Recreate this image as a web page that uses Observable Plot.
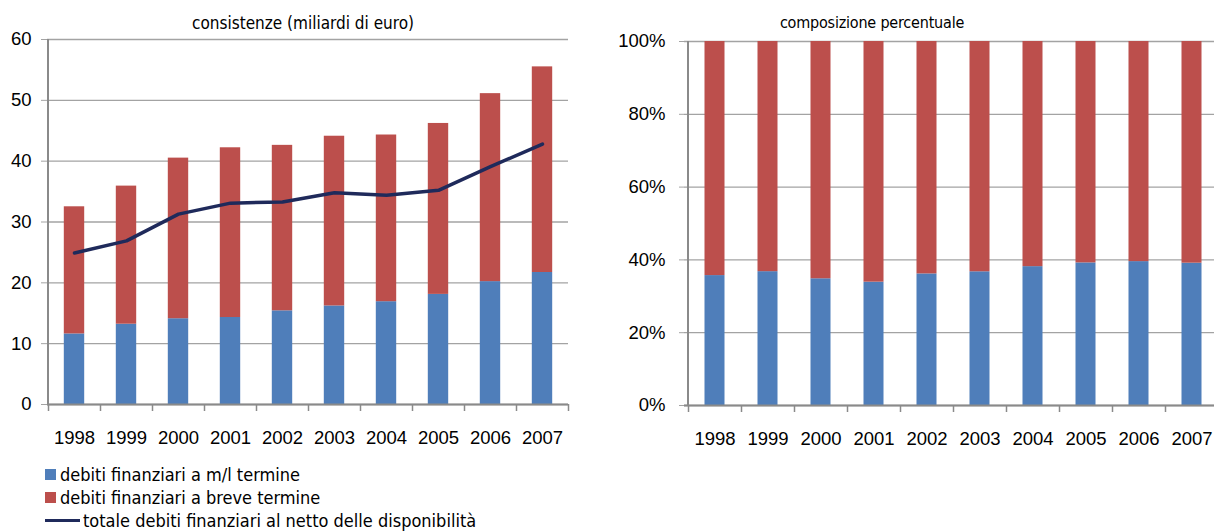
<!DOCTYPE html>
<html>
<head>
<meta charset="utf-8">
<script src="https://cdn.jsdelivr.net/npm/d3@7"></script>
<script src="https://cdn.jsdelivr.net/npm/@observablehq/plot@0.6"></script>
<style>
  html, body { margin: 0; padding: 0; background: #fff; overflow: hidden; width: 1214px; height: 532px; }
  #root { position: relative; width: 1214px; height: 532px; overflow: hidden; }
  .title { position: absolute; top: 13px; transform: translateX(-50%); white-space: nowrap;
           font-family: "Liberation Sans Narrow", "DejaVu Sans Condensed", "Noto Sans", sans-serif;
           font-stretch: condensed; font-size: 17px; color: #000; line-height: 20px; }
  .chart { position: absolute; top: 0; }
  .legend { position: absolute; left: 45px; top: 463px;
            font-family: "Liberation Sans Narrow", "DejaVu Sans Condensed", "Noto Sans", sans-serif;
            font-stretch: condensed; font-size: 18px; color: #000; }
  .legend .row { height: 23px; line-height: 23px; display: flex; align-items: center; white-space: nowrap; }
  .legend .sw { display: inline-block; width: 11px; height: 11px; margin-right: 4px; }
  .legend .ln { display: inline-block; width: 35px; height: 3px; margin-right: 3px; }
</style>
</head>
<body>
<div id="root">
  <div class="chart" id="left" style="left:0px"></div>
  <div class="chart" id="right" style="left:600px; width:621px"></div>
  <div class="title" id="t1" style="left:303px"></div>
  <div class="title" id="t2" style="left:872px; font-size:16px; letter-spacing:-0.2px"></div>
  <div class="legend" id="legend"></div>
</div>
<script>
// ---- data ----
const years = [1998, 1999, 2000, 2001, 2002, 2003, 2004, 2005, 2006, 2007];
const mlTermine    = [11.6, 13.2, 14.1, 14.3, 15.4, 16.2, 16.9, 18.1, 20.2, 21.7];
const breveTermine = [20.9, 22.7, 26.4, 27.9, 27.2, 27.9, 27.4, 28.1, 30.9, 33.8];
const totaleNetto  = [24.9, 26.9, 31.3, 33.1, 33.3, 34.8, 34.4, 35.2, 39.1, 42.8];
const seriesNames = ["debiti finanziari a m/l termine", "debiti finanziari a breve termine"];
const lineName = "totale debiti finanziari al netto delle disponibilità";
const titles = ["consistenze (miliardi di euro)", "composizione percentuale"];
const leftTicks = [0, 10, 20, 30, 40, 50, 60];
const rightTicks = [0, 0.2, 0.4, 0.6, 0.8, 1];

// ---- styles ----
const colors = ["#4F7EBA", "#BC4F4C"];
const lineColor = "#1F2A5B";
const gridColor = "#A3A3A3";
const axisColor = "#8A8A8A";
const tickFont = "'Liberation Sans', Arial, sans-serif";

const stacked = years.flatMap((y, i) => [
  {year: y, serie: seriesNames[0], value: mlTermine[i]},
  {year: y, serie: seriesNames[1], value: breveTermine[i]}
]);
const lineData = years.map((y, i) => ({year: y, value: totaleNetto[i]}));

// vertical axis line + category boundary ticks, from the x scale
function frameMark(tickLen) {
  return (index, scales, values, dimensions) => {
    const xs = years.map(y => scales.x(y));
    const step = xs[1] - xs[0];
    xs.push(xs[xs.length - 1] + step);
    const bottom = dimensions.height - dimensions.marginBottom;
    const g = d3.create("svg:g");
    g.selectAll("line.t").data(xs).join("line")
      .attr("x1", d => Math.round(d) + 0.5).attr("x2", d => Math.round(d) + 0.5)
      .attr("y1", bottom).attr("y2", bottom + tickLen)
      .attr("stroke", axisColor).attr("stroke-width", 1.5);
    g.append("line")
      .attr("x1", Math.round(xs[0])).attr("x2", Math.round(xs[0]))
      .attr("y1", dimensions.marginTop).attr("y2", bottom)
      .attr("stroke", axisColor).attr("stroke-width", 2);
    return g.node();
  };
}

const common = {
  style: {fontFamily: tickFont, fontSize: "18.5px", color: "#000", background: "transparent", overflow: "visible", maxWidth: "none"},
  color: {domain: seriesNames, range: colors},
};

const left = Plot.plot({
  ...common,
  width: 600, height: 450,
  marginLeft: 47, marginRight: 32, marginTop: 39, marginBottom: 46,
  x: {type: "band", domain: years, padding: 0, label: null},
  y: {domain: [0, 60], label: null},
  marks: [
    Plot.gridY(leftTicks, {stroke: gridColor, strokeOpacity: 1, strokeWidth: 1.3}),
    Plot.axisY(leftTicks, {tickSize: 6, tickPadding: 10, stroke: gridColor, strokeOpacity: 1, label: null}),
    Plot.axisX({tickSize: 0, tickPadding: 26, tickFormat: d => `${d}`, label: null}),
    Plot.barY(stacked, {x: "year", y: "value", fill: "serie", insetLeft: 15.8, insetRight: 15.8}),
    Plot.ruleY([0], {stroke: axisColor, strokeWidth: 2}),
    Plot.lineY(lineData, {x: "year", y: "value", stroke: lineColor, strokeWidth: 3.5, strokeLinecap: "round", strokeLinejoin: "round"}),
    frameMark(7)
  ]
});

const right = Plot.plot({
  ...common,
  width: 621, height: 450,
  marginLeft: 84, marginRight: 0, marginTop: 41, marginBottom: 45,
  x: {type: "band", domain: years, padding: 0, label: null},
  y: {domain: [0, 1], label: null},
  marks: [
    Plot.gridY(rightTicks, {stroke: gridColor, strokeOpacity: 1, strokeWidth: 1.3}),
    Plot.axisY(rightTicks, {tickSize: 5, tickPadding: 14, tickFormat: d3.format(".0%"), stroke: gridColor, strokeOpacity: 1, label: null}),
    Plot.axisX({tickSize: 0, tickPadding: 26, tickFormat: d => `${d}`, label: null}),
    Plot.barY(stacked, {x: "year", y: "value", fill: "serie", offset: "normalize", insetLeft: 16.5, insetRight: 16.5}),
    Plot.ruleY([0], {stroke: axisColor, strokeWidth: 2}),
    frameMark(7)
  ]
});

document.getElementById("left").append(left);
document.getElementById("right").append(right);
document.getElementById("t1").textContent = titles[0];
document.getElementById("t2").textContent = titles[1];

const legend = document.getElementById("legend");
seriesNames.forEach((name, i) => {
  const row = document.createElement("div");
  row.className = "row";
  const sw = document.createElement("span");
  sw.className = "sw"; sw.style.background = colors[i];
  row.append(sw, document.createTextNode(name));
  legend.append(row);
});
{
  const row = document.createElement("div");
  row.className = "row";
  const ln = document.createElement("span");
  ln.className = "ln"; ln.style.background = lineColor;
  row.append(ln, document.createTextNode(lineName));
  legend.append(row);
}
</script>
</body>
</html>
